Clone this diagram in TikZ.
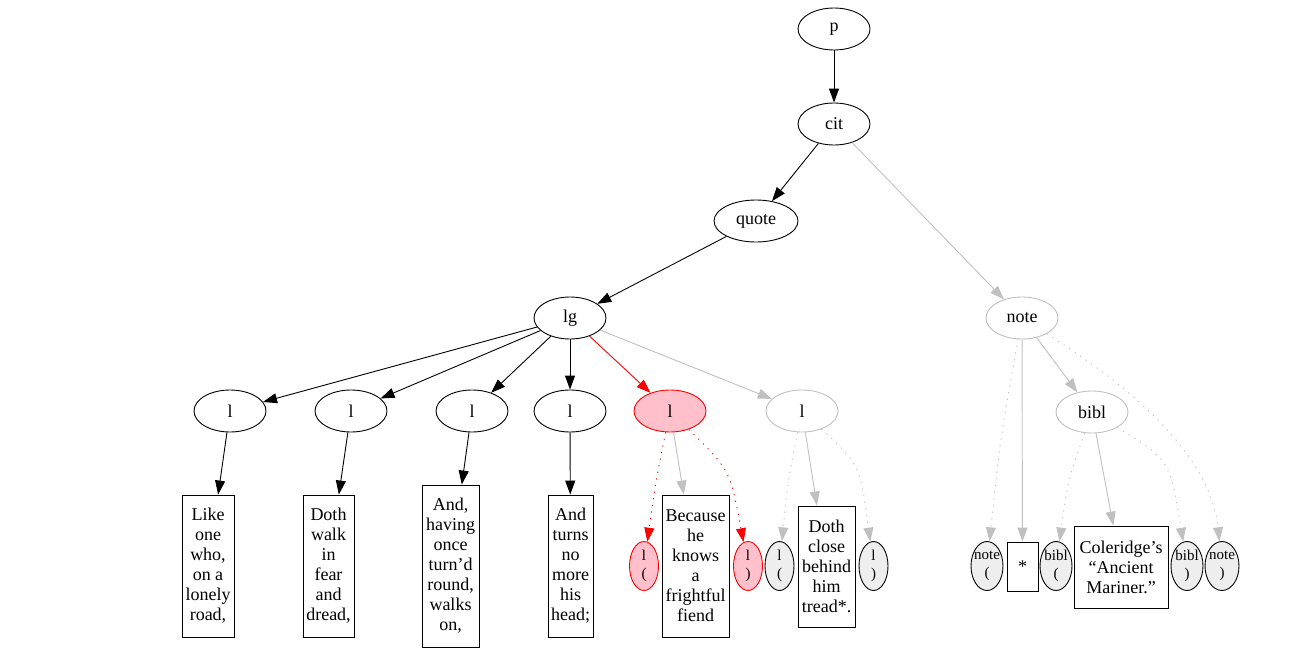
\documentclass[tikz,border=0pt]{standalone}
\usepackage{fontspec}
\setmainfont{Liberation Serif}
\usetikzlibrary{arrows.meta,shapes.geometric}
\definecolor{gv}{HTML}{C0C0C0}
\definecolor{pinkf}{HTML}{FFC0CB}
\definecolor{smallfill}{HTML}{EEEEEE}
\begin{document}
\begin{tikzpicture}[x=1pt,y=-1pt,
  every node/.style={font=\fontsize{18}{20}\selectfont, inner sep=0pt},
  ell/.style={ellipse, draw, line width=0.9pt, minimum width=72pt, minimum height=42pt},
  gell/.style={ell, draw=gv},
  rell/.style={ell, draw=red, fill=pinkf},
  box/.style={rectangle, draw, line width=0.9pt, align=center},
  sm/.style={ellipse, draw, line width=0.9pt, minimum height=49pt, fill=smallfill,
    label={[font=\fontsize{15}{17.5}\selectfont, align=center]center:{#1}}},
  rsm/.style={sm={#1}, draw=red, fill=pinkf},
  arr/.style={-{Triangle[length=14pt,width=10pt]}, line width=0.9pt},
  dotline/.style={dash pattern=on 1.2pt off 5.5pt}
]
\useasboundingbox (0,0) rectangle (1309,653);
% ellipses
\node[ell] (p) at (834,29) {p};
\node[ell] (cit) at (834,124) {cit};
\node[ell, minimum width=84pt] (quote) at (756,221) {quote};
\node[ell] (lg) at (570,318) {lg};
\node[gell] (note) at (1022,318) {note};
\node[ell] (l1) at (230,411) {l};
\node[ell] (l2) at (351,411) {l};
\node[ell] (l3) at (472,411) {l};
\node[ell] (l4) at (570,411) {l};
\node[rell] (l5) at (670,411) {l};
\node[gell] (l6) at (802,411) {l};
\node[gell] (bibl) at (1092,412) {bibl};
% boxes
\node[box, minimum width=52pt, minimum height=142pt] (t1) at (208,566) {Like\\one\\who,\\on a\\lonely\\road,};
\node[box, minimum width=51pt, minimum height=142pt] (t2) at (328.5,566) {Doth\\walk\\in\\fear\\and\\dread,};
\node[box, minimum width=57pt, minimum height=162pt] (t3) at (450.5,566) {And,\\having\\once\\turn’d\\round,\\walks\\on,};
\node[box, minimum width=45pt, minimum height=142pt] (t4) at (570.5,566) {And\\turns\\no\\more\\his\\head;};
\node[box, minimum width=67pt, minimum height=142pt] (t5) at (695.5,566) {Because\\he\\knows\\a\\frightful\\fiend};
\node[box, minimum width=57pt, minimum height=121pt] (t6) at (826.5,566.5) {Doth\\close\\behind\\him\\tread*.};
\node[box, minimum width=31pt, minimum height=49pt] (star) at (1022.5,566.5) {*};
\node[box, minimum width=94pt, minimum height=82pt] (cole) at (1121,567) {Coleridge’s\\“Ancient\\Mariner.”};
% small ellipses
\node[rsm={l\\(}, minimum width=29pt] (l5a) at (644,566) {};
\node[rsm={l\\)}, minimum width=29pt] (l5b) at (748,566) {};
\node[sm={l\\(}, minimum width=29pt] (l6a) at (779.5,566) {};
\node[sm={l\\)}, minimum width=29pt] (l6b) at (873.5,566) {};
\node[sm={note\\(}, minimum width=32pt] (notea) at (987,566) {};
\node[sm={bibl\\(}, minimum width=32pt] (bibla) at (1056,566) {};
\node[sm={bibl\\)}, minimum width=32pt] (biblb) at (1187,566) {};
\node[sm={note\\)}, minimum width=34pt] (noteb) at (1222,566) {};
% edges
\draw[arr] (p) -- (cit);
\draw[arr] (cit) -- (quote);
\draw[arr, gv] (cit) -- (note);
\draw[arr] (quote) -- (lg);
\draw[arr] (lg) -- (l1);
\draw[arr] (lg) -- (l2);
\draw[arr] (lg) -- (l3);
\draw[arr] (lg) -- (l4);
\draw[arr, red] (lg) -- (l5);
\draw[arr, gv] (lg) -- (l6);
\draw[arr] (l1) -- (t1);
\draw[arr] (l2) -- (t2);
\draw[arr] (l3) -- (t3);
\draw[arr] (l4) -- (t4);
\draw[arr, gv] (l5) -- (t5);
\draw[arr, red, dotline] (l5) .. controls (656,480) .. (l5a);
\draw[arr, red, dotline] (l5) .. controls (730,470) .. (l5b);
\draw[arr, gv] (l6) -- (t6);
\draw[arr, gv, dotline] (l6) .. controls (788,480) .. (l6a);
\draw[arr, gv, dotline] (l6) .. controls (860,465) .. (l6b);
\draw[arr, gv, dotline] (note) .. controls (1000,440) .. (notea);
\draw[arr, gv] (note) -- (star);
\draw[arr, gv] (note) -- (bibl);
\draw[arr, gv, dotline] (note) .. controls (1120,380) and (1210,450) .. (noteb);
\draw[arr, gv, dotline] (bibl) .. controls (1068,480) .. (bibla);
\draw[arr, gv] (bibl) -- (cole);
\draw[arr, gv, dotline] (bibl) .. controls (1170,460) .. (biblb);
\end{tikzpicture}
\end{document}
